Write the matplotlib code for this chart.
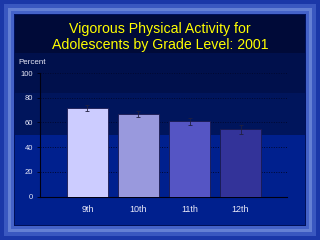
import numpy as np
import matplotlib
matplotlib.use('Agg')
from matplotlib import pyplot as plt
from matplotlib.patches import Rectangle

grades = ['9th', '10th', '11th', '12th']
percent = [71.5, 67.0, 61.0, 54.5]
err = [2.5, 2.3, 3.0, 3.5]
bar_colors = ['#ccccff', '#9999dd', '#5555c4', '#333399']
yticks = [0, 20, 40, 60, 80, 100]

plt.rcParams['font.family'] = ['Liberation Sans', 'DejaVu Sans']

W, H = 320, 240
fig = plt.figure(figsize=(3.2, 2.4), dpi=100, facecolor='#1b38a8')

def box(x0, y0, x1, y1, color):
    # rectangle in pixel coords (top-left origin), kept under the axes
    fig.patches.append(Rectangle((x0 / W, 1 - y1 / H), (x1 - x0) / W, (y1 - y0) / H,
                                 transform=fig.transFigure, facecolor=color,
                                 edgecolor='none', zorder=-10))

# slide frame
box(4, 4, 316, 236, '#3a58c0')
box(8, 8, 312, 232, '#6480d4')
box(11, 11, 309, 229, '#4462c8')
box(14, 14, 306, 226, '#00105a')
box(15, 15, 305, 225, '#00208e')
box(15, 15, 305, 53, '#000a38')
box(15, 53, 305, 93, '#00104c')
box(15, 93, 305, 135, '#00155c')

fig.text(0.5, 1 - 37 / H, 'Vigorous Physical Activity for\nAdolescents by Grade Level: 2001',
         ha='center', va='center', color='#ffff00', fontsize=10.2, linespacing=1.2)
fig.text(18 / W, 1 - 62 / H, 'Percent', ha='left', va='center', color='#e8e8f8', fontsize=5.8)

ax = fig.add_axes([40 / W, 1 - 196.7 / H, 247 / W, 123.7 / H])
ax.set_zorder(2)
ax.patch.set_alpha(0)
x = np.arange(len(grades))
ax.bar(x, percent, width=0.8, color=bar_colors, edgecolor='#1a1a50', linewidth=0.6, zorder=3)
ax.errorbar(x, percent, yerr=err, fmt='none', ecolor='#202040', elinewidth=0.6,
            capsize=1.5, capthick=0.6, zorder=4)

ax.set_ylim(0, 100)
ax.set_xlim(-0.93, 3.91)
ax.set_yticks(yticks)
ax.set_yticklabels([str(v) for v in yticks])
ax.set_xticks(x)
ax.set_xticklabels(grades)
ax.yaxis.grid(True, linestyle=(0, (1, 1.5)), color='#000830', linewidth=0.7, zorder=1)
ax.tick_params(axis='y', colors='#e8e8f8', labelsize=5.5, length=2, width=0.6, pad=3)
ax.tick_params(axis='x', colors='#e8e8f8', labelsize=6.5, length=0, pad=6)
ax.tick_params(axis='y', color='#000010')
for s in ['top', 'right']:
    ax.spines[s].set_visible(False)
for s in ['left', 'bottom']:
    ax.spines[s].set_color('#000010')
    ax.spines[s].set_linewidth(0.8)

fig.savefig('out.png', dpi=100, facecolor=fig.get_facecolor())
